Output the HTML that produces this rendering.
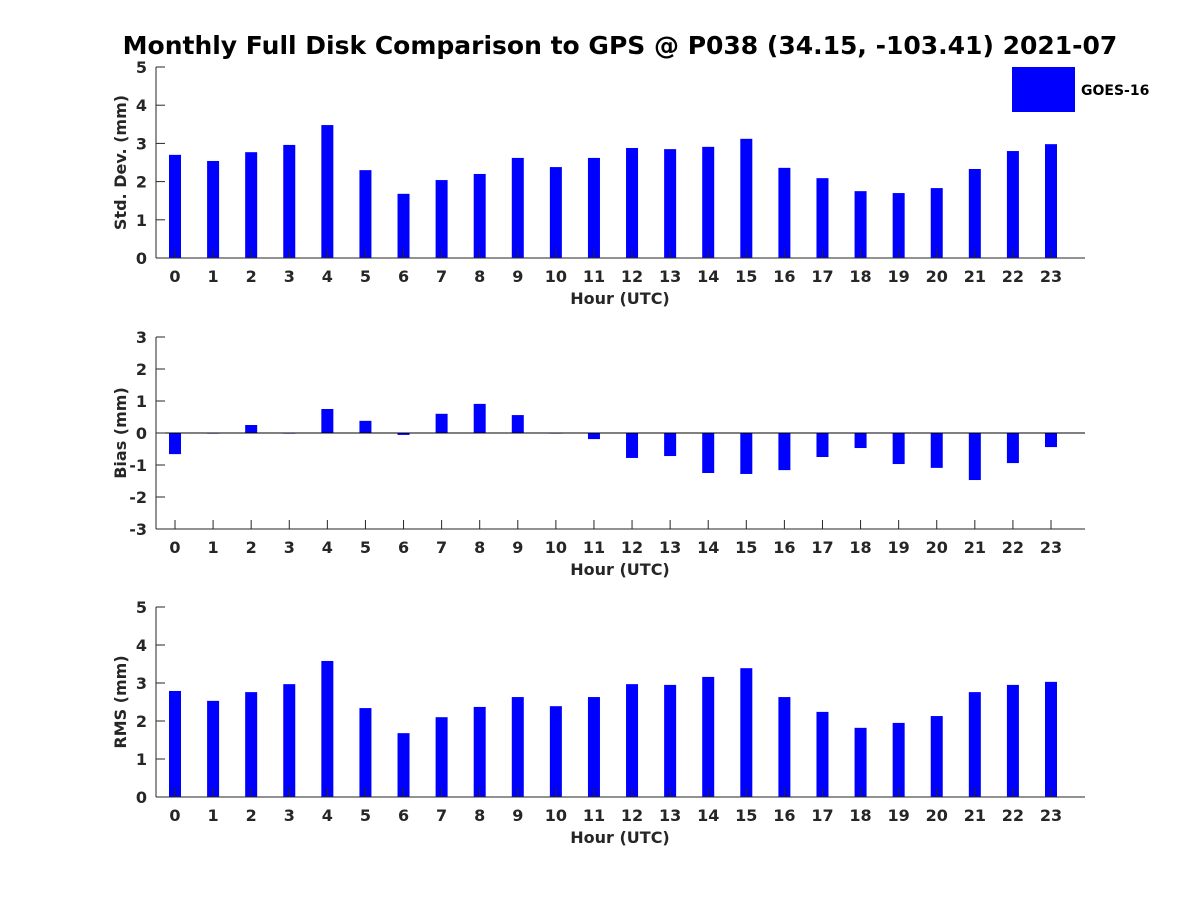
<!DOCTYPE html>
<html><head><meta charset="utf-8"><style>
body{margin:0;background:#fff}
svg text{font-family:"DejaVu Sans","Liberation Sans",sans-serif;font-weight:bold;fill:#262626}
</style></head><body>
<svg id="chart" width="1200" height="900" xmlns="http://www.w3.org/2000/svg">
<rect width="1200" height="900" fill="#fff"/>
<text x="620" y="54" font-size="25" text-anchor="middle" fill="#000" style="fill:#000">Monthly Full Disk Comparison to GPS @ P038 (34.15, -103.41) 2021-07</text>
<g>
<rect x="1012" y="67" width="63" height="45" fill="#0000ff"/>
<text x="1081" y="95" font-size="14" style="fill:#000">GOES-16</text>
</g>
</svg>
<script>
const hours = [0,1,2,3,4,5,6,7,8,9,10,11,12,13,14,15,16,17,18,19,20,21,22,23];
const stdDev = [2.70,2.54,2.77,2.96,3.48,2.30,1.68,2.04,2.20,2.62,2.38,2.62,2.88,2.85,2.91,3.12,2.36,2.09,1.75,1.70,1.83,2.33,2.80,2.98];
const bias = [-0.66,-0.02,0.25,-0.02,0.75,0.38,-0.06,0.60,0.91,0.56,0.0,-0.19,-0.78,-0.72,-1.25,-1.28,-1.16,-0.75,-0.47,-0.97,-1.09,-1.47,-0.94,-0.44];
const rms = [2.79,2.53,2.76,2.97,3.58,2.34,1.68,2.10,2.37,2.63,2.39,2.63,2.97,2.95,3.16,3.39,2.63,2.24,1.82,1.95,2.13,2.76,2.95,3.03];
const stdTicks = [0,1,2,3,4,5];
const biasTicks = [-3,-2,-1,0,1,2,3];
const rmsTicks = [0,1,2,3,4,5];

const svg = document.getElementById('chart');
const NS = 'http://www.w3.org/2000/svg';
function mk(tag, attrs){const e=document.createElementNS(NS,tag);for(const k in attrs)e.setAttribute(k,attrs[k]);svg.appendChild(e);return e;}
const X0=156, X1=1085;
function xScale(h){return 175 + h*(1051-175)/23;}

function panel(name, top, bottom, ymin, ymax, ticks, values, ylabel){
  const y = v => bottom - (v-ymin)*(bottom-top)/(ymax-ymin);
  values.forEach((v,i)=>{
    const y0=y(0), y1=y(v);
    const r=mk('rect',{x:xScale(hours[i])-6,y:Math.min(y0,y1),width:12,height:Math.max(Math.abs(y1-y0),0.6),fill:'#0000ff'});
    
    
  });
  const ax=mk('line',{x1:X0,y1:top,x2:X0,y2:bottom,stroke:'#262626','stroke-width':1});
  
  
  const bx=mk('line',{x1:X0,y1:bottom,x2:X1,y2:bottom,stroke:'#262626','stroke-width':1});
  
  
  if(ymin<0){
    const z=mk('line',{x1:X0,y1:y(0),x2:X1,y2:y(0),stroke:'#000','stroke-width':1});
    
    
  }
  ticks.forEach(t=>{
    mk('line',{x1:X0,y1:y(t),x2:X0+9,y2:y(t),stroke:'#262626'});
    const tx=mk('text',{x:X0-9,y:y(t)+6,'font-size':16,'text-anchor':'end'});
    tx.textContent=t;
    
    
  });
  hours.forEach(h=>{
    mk('line',{x1:xScale(h),y1:bottom,x2:xScale(h),y2:bottom-9,stroke:'#262626'});
    const tx=mk('text',{x:xScale(h),y:bottom+24,'font-size':16,'text-anchor':'middle'});
    tx.textContent=h;
    
    
  });
  const xl=mk('text',{x:620,y:bottom+46,'font-size':16,'text-anchor':'middle'});
  xl.textContent='Hour (UTC)';
  
  
  const cy=(top+bottom)/2;
  const yl=mk('text',{x:126,y:cy,'font-size':16,'text-anchor':'middle',transform:'rotate(-90 126 '+cy+')'});
  yl.textContent=ylabel;
  
  
}
panel('std-dev',67,258,0,5,stdTicks,stdDev,'Std. Dev. (mm)');
panel('bias',337,529,-3,3,biasTicks,bias,'Bias (mm)');
panel('rms',607,797,0,5,rmsTicks,rms,'RMS (mm)');
</script>
</body></html>
